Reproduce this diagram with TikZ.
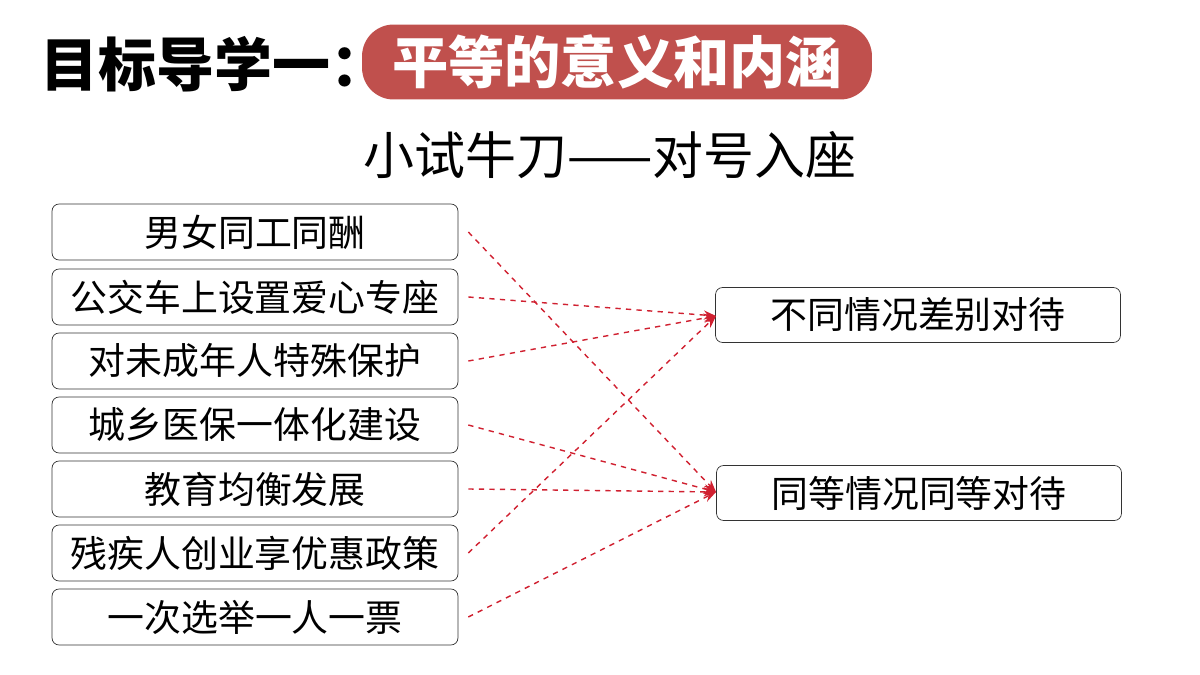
\documentclass[tikz,border=0pt]{standalone}
\usepackage{fontspec}
\setmainfont{Noto Sans CJK SC}
\usepackage{tikz}
\usetikzlibrary{arrows.meta, shapes, calc}
\definecolor{TitleRed}{HTML}{C0504D}
\definecolor{LineRed}{HTML}{D02030}

\begin{document}
\begin{tikzpicture}[x=0.02cm, y=-0.02cm]

    % Frame
    \useasboundingbox (0,0) rectangle (1200,675);

    % Styles
    \tikzset{iS/.style={draw=black!80, rounded corners=4pt, minimum width=8.12cm, minimum height=1.12cm, font=\fontsize{21}{23}\selectfont, fill=white}}
    \tikzset{cS/.style={iS, minimum width=8.1cm, minimum height=1.1cm}}
    \tikzset{aS/.style={draw=LineRed, thick, dashed, -{Stealth[length=7pt]}}}

    % Title
    \node (t) [anchor=west, inner sep=0pt, font=\fontsize{33}{36}\selectfont\bfseries] at (40, 64) {目标导学一：};
    \node (tb) [fill=TitleRed, text=white, rounded corners=18pt, minimum width=10.2cm, minimum height=1.5cm, font=\fontsize{32}{34}\selectfont\bfseries] at (617, 62) {平等的意义和内涵};
    \node (st) [font=\fontsize{29}{32}\selectfont] at (610, 155) {小试牛刀——对号入座};

    % Items
    \node (i1) [iS] at (255, 232) {男女同工同酬};
    \node (i2) [iS] at (255, 297) {公交车上设置爱心专座};
    \node (i3) [iS] at (255, 361) {对未成年人特殊保护};
    \node (i4) [iS] at (255, 425) {城乡医保一体化建设};
    \node (i5) [iS] at (255, 489) {教育均衡发展};
    \node (i6) [iS] at (255, 553) {残疾人创业享优惠政策};
    \node (i7) [iS] at (255, 617) {一次选举一人一票};

    % Categories
    \node (c1) [cS] at (918, 315) {不同情况差别对待};
    \node (c2) [cS] at (919, 493) {同等情况同等对待};

    % Matches
    \coordinate (e1) at (716, 316);
    \coordinate (e2) at (716, 492);
    \draw[aS] ($(i1.east)+(10,0)$) -- (e2);
    \draw[aS] ($(i2.east)+(10,0)$) -- (e1);
    \draw[aS] ($(i3.east)+(10,0)$) -- (e1);
    \draw[aS] ($(i4.east)+(10,0)$) -- (e2);
    \draw[aS] ($(i5.east)+(10,0)$) -- (e2);
    \draw[aS] ($(i6.east)+(10,0)$) -- (e1);
    \draw[aS] ($(i7.east)+(10,0)$) -- (e2);

\end{tikzpicture}
\end{document}
